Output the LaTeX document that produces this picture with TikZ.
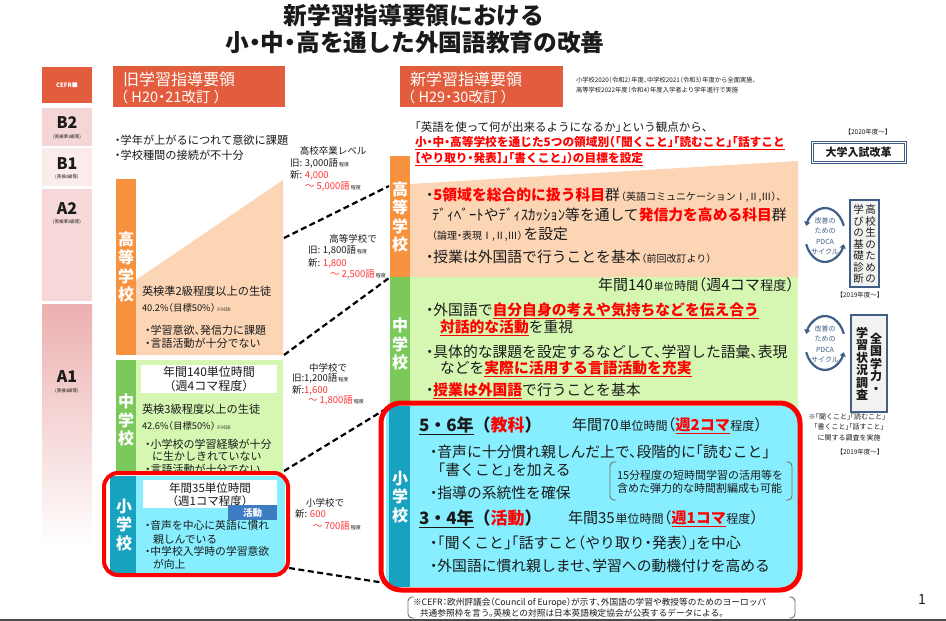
\documentclass[tikz,border=0pt]{standalone}
\usepackage{fontspec}
\setmainfont{Noto Sans CJK JP}[RawFeature=+halt]
\newfontfamily\fixj{Noto Sans CJK JP}
\usetikzlibrary{arrows.meta}
\definecolor{hdr}{HTML}{E35C3D}
\definecolor{ora}{HTML}{F7923F}
\definecolor{pea}{HTML}{FCD5B5}
\definecolor{grn}{HTML}{7BC95B}
\definecolor{lgr}{HTML}{D5F7B2}
\definecolor{tealc}{HTML}{17A3C0}
\definecolor{cyn}{HTML}{86EEFF}
\definecolor{emred}{HTML}{FF0000}
\definecolor{vred}{HTML}{FF3333}
\definecolor{blu}{HTML}{3D7CC0}
\definecolor{navy}{HTML}{3F5F86}
\definecolor{b2c}{HTML}{F5D6D6}
\definecolor{b1c}{HTML}{FBEBEB}
\definecolor{a2c}{HTML}{F6D8D8}
\definecolor{a1c}{HTML}{ECB0B0}
\definecolor{txtc}{HTML}{1A1A1A}
\definecolor{brc}{HTML}{707070}
\definecolor{boxf}{HTML}{F2F2F2}
\newcommand\fs[1]{\fontsize{#1}{#1}\selectfont}
\newcommand\fsl[2]{\fontsize{#1}{#2}\selectfont}
\newcommand\rd[1]{\textcolor{emred}{\textbf{#1}}}
\newcommand\rdu[1]{\textcolor{emred}{\underline{\textbf{#1}}}}
\newcommand\redv[1]{\textcolor{vred}{#1}}
\newcommand\smx[1]{\kern1pt{\fs{5}#1}}
\newcommand\brkt[4]{%
  \draw[brc,line width=0.9pt,rounded corners=4pt] ({#1+6},#2) -- (#1,#2) -- (#1,#4) -- ({#1+6},#4);
  \draw[brc,line width=0.9pt,rounded corners=4pt] ({#3-6},#2) -- (#3,#2) -- (#3,#4) -- ({#3-6},#4);}
\tikzset{
  tx/.style={inner sep=0pt, outer sep=0pt, anchor=west, text=txtc},
  tc/.style={inner sep=0pt, outer sep=0pt, anchor=center, text=txtc},
  vbar/.style={inner sep=0pt, anchor=center, text=white, align=center, font=\fixj\fsl{16}{18.5}\bfseries},
  cut/.style={draw=black, line width=2.2pt, dash pattern=on 6pt off 3.5pt},
  pd/.style={draw=navy, line width=2.2pt, -{Triangle[length=4pt,width=6pt]}},
  vbox/.style={draw=navy, line width=1.4pt, fill=boxf},
}
\begin{document}
\begin{tikzpicture}[x=1pt,y=-1pt]
\useasboundingbox (0,0) rectangle (946,621);
\fill[white] (0,0) rectangle (946,621);

% ---------- title
\node[tc,font=\fs{23.7}\bfseries] (ttl1) at (414,15) {新学習指導要領における};
\node[tc,font=\fs{23.7}\bfseries] (ttl2) at (415,43) {小・中・高を通した外国語教育の改善};

% ---------- CEFR column
\fill[hdr] (42,67) rectangle (92,103);
\node[tc,text=white,font=\fs{6}\bfseries] (cefr) at (67,85) {CEFR■};
\fill[b2c] (42,108) rectangle (92,146);
\node[tc,font=\fs{16}\bfseries] (lb2) at (67,123) {B2};
\node[tc,font=\fs{4.5}] (sb2) at (67,137) {(英検準1級等)};
\fill[b1c] (42,148) rectangle (92,186);
\node[tc,font=\fs{16}\bfseries] (lb1) at (67,164) {B1};
\node[tc,font=\fs{4.5}] (sb1) at (67,177) {(英検2級等)};
\fill[a2c] (42,189) rectangle (92,301);
\node[tc,font=\fs{16}\bfseries] (la2) at (67,209) {A2};
\node[tc,font=\fs{4.5}] (sa2) at (67,222) {(英検準2級等)};
\shade[top color=a1c, bottom color=white] (42,304) rectangle (92,548);
\node[tc,font=\fs{16}\bfseries] (la1) at (67,377) {A1};
\node[tc,font=\fs{4.5}] (sa1) at (67,391) {(英検3級等)};

% ---------- headers
\fill[hdr] (113,66) rectangle (285,107);
\node[tx,text=white,font=\fs{16}] (oh1) at (123,79) {旧学習指導要領};
\node[tx,text=white,font=\fs{14.5}] (oh2) at (121,97) {（ H20・21改訂 ）};
\fill[hdr] (400,66) rectangle (563,107);
\node[tx,text=white,font=\fs{16}] (nh1) at (410,79) {新学習指導要領};
\node[tx,text=white,font=\fs{14.5}] (nh2) at (408,97) {（ H29・30改訂 ）};
\node[tx,font=\fs{6.3}] (impl1) at (576,80) {小学校2020（令和2）年度、中学校2021（令和3）年度から全面実施、};
\node[tx,font=\fs{6.3}] (impl2) at (576,90) {高等学校2022年度（令和4）年度入学者より学年進行で実施};

% ---------- old section
\node[tx,font=\fs{11.2}] (ob1) at (115,140) {・学年が上がるにつれて意欲に課題};
\node[tx,font=\fs{11.2}] (ob2) at (115,155) {・学校種間の接続が不十分};

\fill[ora] (116,179) rectangle (136,355);
\fill[pea] (136,280) -- (283,180) -- (283,355) -- (136,355) -- cycle;
\node[vbar] (ohs) at (126,267) {高\\等\\学\\校};
\node[tx,font=\fs{11.2}] (oh3) at (142,291) {英検準2級程度以上の生徒};
\node[tx,font=\fs{9.3}] (oh4) at (142,307.5) {40.2\%（目標50\%）\smx{※H30}};
\node[tx,font=\fs{11}] (oh5) at (145,330) {・学習意欲、発信力に課題};
\node[tx,font=\fs{11}] (oh6) at (145,343) {・言語活動が十分でない};

\fill[grn] (116,360) rectangle (136,475);
\fill[lgr] (136,360) rectangle (283,475);
\fill[white] (141,365) rectangle (277,393);
\node[tc,font=\fs{12}] (oj1) at (209,372) {年間140単位時間};
\node[tc,font=\fs{12}] (oj2) at (209,386) {（週4コマ程度）};
\node[vbar] (ojs) at (126,420) {中\\学\\校};
\node[tx,font=\fs{11.2}] (oj3) at (142,409) {英検3級程度以上の生徒};
\node[tx,font=\fs{9.3}] (oj4) at (142,425.5) {42.6\%（目標50\%）\smx{※H30}};
\node[tx,font=\fs{11}] (oj5) at (145,444) {・小学校の学習経験が十分};
\node[tx,font=\fs{11}] (oj6) at (152,456) {に生かしきれていない};
\node[tx,font=\fs{11}] (oj7) at (145,469) {・言語活動が十分でない};

\begin{scope}
  \clip[rounded corners=14pt] (104,473) rectangle (288,575);
  \fill[white] (104,473) rectangle (288,575);
  \fill[cyn] (110,476) rectangle (285,573);
  \fill[tealc] (110,476) rectangle (136,573);
\end{scope}
\draw[emred, line width=4pt, rounded corners=14pt] (104,473) rectangle (288,575);
\fill[white] (143,480) rectangle (277,508);
\node[tc,font=\fs{11.5}] (oe1) at (210,488) {年間35単位時間};
\node[tc,font=\fs{11.5}] (oe2) at (210,501) {（週1コマ程度）};
\fill[blu] (228,505) rectangle (277,520);
\node[tc,text=white,font=\fs{9.5}\bfseries] (oe3) at (252.5,512.5) {活動};
\node[vbar] (oes) at (124,525) {小\\学\\校};
\node[tx,font=\fs{10.8}] (oe4) at (145,525) {・音声を中心に英語に慣れ};
\node[tx,font=\fs{10.8}] (oe5) at (153,539) {親しんでいる};
\node[tx,font=\fs{10.8}] (oe6) at (145,551) {・中学校入学時の学習意欲};
\node[tx,font=\fs{10.8}] (oe7) at (153,564) {が向上};

% ---------- vocabulary labels
\node[tc,font=\fs{9.5}] (v1h) at (333,151) {高校卒業レベル};
\node[tx,font=\fs{9.5}] (v1o) at (290,164) {旧: 3,000語\smx{程度}};
\node[tx,font=\fs{9.5}] (v1n) at (290,175) {新: \redv{4,000}};
\node[tx,font=\fs{9.5}] (v1r) at (305,187) {\redv{～ 5,000語}\smx{程度}};
\node[tc,font=\fs{9.5}] (v2h) at (353,239) {高等学校で};
\node[tx,font=\fs{9.5}] (v2o) at (308,251) {旧: 1,800語\smx{程度}};
\node[tx,font=\fs{9.5}] (v2n) at (308,263) {新: \redv{1,800}};
\node[tx,font=\fs{9.5}] (v2r) at (330,275) {\redv{～ 2,500語}\smx{程度}};
\node[tc,font=\fs{9.5}] (v3h) at (328,368) {中学校で};
\node[tx,font=\fs{9.5}] (v3o) at (292,379) {旧:1,200語\smx{程度}};
\node[tx,font=\fs{9.5}] (v3n) at (292,390) {新:\redv{1,600}};
\node[tx,font=\fs{9.5}] (v3r) at (308,401) {\redv{～ 1,800語}\smx{程度}};
\node[tc,font=\fs{9.5}] (v4h) at (325,503) {小学校で};
\node[tx,font=\fs{9.5}] (v4n) at (295,514) {新: \redv{600}};
\node[tx,font=\fs{9.5}] (v4r) at (313,526) {\redv{～ 700語}\smx{程度}};

% ---------- dashed connectors
\coordinate (d1a) at (284,238); \coordinate (d1b) at (389,186);
\coordinate (d2a) at (284,355); \coordinate (d2b) at (389,278);
\coordinate (d3a) at (284,471); \coordinate (d3b) at (389,407);
\coordinate (d4a) at (289,568); \coordinate (d4b) at (385,583);
\draw[cut] (d1a) -- (d1b);
\draw[cut] (d2a) -- (d2b);
\draw[cut] (d3a) -- (d3b);
\draw[cut] (d4a) -- (d4b);

% ---------- new section
\node[tx,font=\fs{11.5}] (ni1) at (415,127) {「英語を使って何が出来るようになるか」という観点から、};
\node[tx,font=\fs{11.7}] (ni2) at (415,143) {\rdu{小・中・高等学校を通じた5つの領域別（「聞くこと」「読むこと」「話すこと}};
\node[tx,font=\fs{11.7}] (ni3) at (415,159) {\rdu{【やり取り・発表】」「書くこと」）の目標を設定}};

\fill[ora] (390,156) rectangle (410,277);
\fill[pea] (410,184) -- (798,161) -- (798,277) -- (410,277) -- cycle;
\node[vbar] (nhs) at (400,217) {高\\等\\学\\校};
\node[tx,font=\fs{14.8}] (nk1) at (426,195) {・\rd{5領域を総合的に扱う科目}群\kern1pt{\fs{10}（英語コミュニケーションⅠ,Ⅱ,Ⅲ）、}};
\node[tx,font=\fs{14.8}] (nk2) at (432,215) {ﾃﾞｨﾍﾞｰﾄやﾃﾞｨｽｶｯｼｮﾝ等を通して\rd{発信力を高める科目}群};
\node[tx,font=\fs{14.8}] (nk3) at (432,234) {{\fs{10}（論理・表現Ⅰ,Ⅱ,Ⅲ）}\kern1pt を設定};
\node[tx,font=\fs{14.8}] (nk4) at (426,257) {・授業は外国語で行うことを基本\kern1pt{\fs{10}（前回改訂より）}};

\fill[grn] (390,277) rectangle (410,407);
\fill[lgr] (410,277) rectangle (798,407);
\node[vbar] (njs) at (400,344) {中\\学\\校};
\node[inner sep=0pt,anchor=east,text=txtc,font=\fs{15}] (nj0) at (794,285) {年間140\kern1pt{\fs{10}単位}\kern0.5pt{\fs{12}時間}\kern0.5pt（週4コマ\kern0.5pt{\fs{13}程度}）};
\node[tx,font=\fs{14.8}] (nj1) at (426,311) {・外国語で\rdu{自分自身の考えや気持ちなどを伝え合う}};
\node[tx,font=\fs{14.8}] (nj2) at (440,328) {\rdu{対話的な活動}を重視};
\node[tx,font=\fs{14.8}] (nj3) at (426,352) {・具体的な課題を設定するなどして、学習した語彙、表現};
\node[tx,font=\fs{14.8}] (nj4) at (440,369) {などを\rdu{実際に活用する言語活動を充実}};
\node[tx,font=\fs{14.8}] (nj5) at (426,391) {・\rdu{授業は外国語}で行うことを基本};

\begin{scope}
  \clip[rounded corners=20pt] (381,403) rectangle (800,590);
  \fill[white] (381,403) rectangle (800,590);
  \fill[cyn] (386,406) rectangle (798,587);
  \fill[tealc] (389,406) rectangle (410,587);
\end{scope}
\draw[emred, line width=5pt, rounded corners=20pt] (381,403) rectangle (800,590);
\node[vbar] (nes) at (400,497) {小\\学\\校};
\node[tx,font=\fixj\fs{17}\bfseries] (ne1) at (419,426) {\underline{5・6年}（\textcolor{emred}{教科}）};
\node[tx,font=\fs{15}] (ne2) at (572,426) {年間70\kern1pt{\fs{12}単位時間}\kern0.5pt（\rdu{週2コマ}\kern0.5pt{\fs{12}程度}）};
\node[tx,font=\fs{14.8}] (ne3) at (430,452) {・音声に十分慣れ親しんだ上で、段階的に「読むこと」};
\node[tx,font=\fs{14.8}] (ne4) at (438,470) {「書くこと」を加える};
\node[tx,font=\fs{14.8}] (ne5) at (430,493) {・指導の系統性を確保};
\brkt{610}{462}{792}{500}
\node[tx,font=\fs{11}] (ne6) at (617,475) {15分程度の短時間学習の活用等を};
\node[tx,font=\fs{11}] (ne7) at (617,488) {含めた弾力的な時間割編成も可能};
\node[tx,font=\fixj\fs{17}\bfseries] (ne8) at (419,519) {\underline{3・4年}（\textcolor{emred}{活動}）};
\node[tx,font=\fs{15}] (ne9) at (568,519) {年間35\kern1pt{\fs{12}単位時間}\kern0.5pt（\rdu{週1コマ}\kern0.5pt{\fs{12}程度}）};
\node[tx,font=\fs{14.8}] (ne10) at (430,543) {・「聞くこと」「話すこと（やり取り・発表）」を中心};
\node[tx,font=\fs{14.8}] (ne11) at (430,566) {・外国語に慣れ親しませ、学習への動機付けを高める};

% ---------- right column
\node[tc,font=\fs{6.5}] (y2020) at (868,132) {【2020年度～】};
\draw[navy, line width=1pt, double=white, double distance=1pt] (812,142) rectangle (905,162);
\node[tc,font=\fs{11}\bfseries] (univ) at (858.5,152) {大学入試改革};

\draw[pd] (843.8,225.8) arc[start angle=-20, end angle=-160, x radius=20, y radius=27];
\draw[pd] (806.2,244.2) arc[start angle=160, end angle=20, x radius=20, y radius=27];
\node[tc,align=center,text=navy,font=\fsl{7}{10.5}] (pdca1) at (825,236) {改善の\\ための\\PDCA\\サイクル};
\draw[vbox] (850,200) rectangle (879,287);
\node[tc,align=center,anchor=north,font=\fixj\fsl{10.5}{11.5}] (kk1) at (870.5,205) {高\\校\\生\\の\\た\\め\\の};
\node[tc,align=center,anchor=north,font=\fixj\fsl{10.5}{11.5}] (kk2) at (858.5,205) {学\\び\\の\\基\\礎\\診\\断};
\node[tc,font=\fs{6.5}] (y2019a) at (860,295) {【2019年度～】};

\draw[pd] (843.8,333.8) arc[start angle=-20, end angle=-160, x radius=20, y radius=27];
\draw[pd] (806.2,352.2) arc[start angle=160, end angle=20, x radius=20, y radius=27];
\node[tc,align=center,text=navy,font=\fsl{7}{10.5}] (pdca2) at (825,344) {改善の\\ための\\PDCA\\サイクル};
\draw[vbox] (851,315) rectangle (887,412);
\node[tc,align=center,anchor=north,font=\fixj\fsl{12}{12.5}\bfseries] (zk1) at (876,333) {全\\国\\学\\力\\・};
\node[tc,align=center,anchor=north,font=\fixj\fsl{12}{12.5}\bfseries] (zk2) at (862,327) {学\\習\\状\\況\\調\\査};
\node[tc,font=\fs{7}] (nt1) at (847,417) {※「聞くこと」「読むこと」};
\node[tc,font=\fs{7}] (nt2) at (849,427) {「書くこと」「話すこと」};
\node[tc,font=\fs{7}] (nt3) at (849,438) {に関する調査を実施};
\node[tc,font=\fs{6.5}] (y2019b) at (860,452) {【2019年度～】};

% ---------- footnote
\brkt{408}{597}{795}{618}
\node[tx,font=\fs{8.7}] (fn1) at (413,602.5) {※CEFR：欧州評議会（Council of Europe）が示す、外国語の学習や教授等のためのヨーロッパ};
\node[tx,font=\fs{8.7}] (fn2) at (420,613) {共通参照枠を言う。英検との対照は日本英語検定協会が公表するデータによる。};
\node[tc,font=\fs{14}] (pg) at (922,600) {1};
\fill[black!70] (0,619) rectangle (946,621);
\end{tikzpicture}
\end{document}
